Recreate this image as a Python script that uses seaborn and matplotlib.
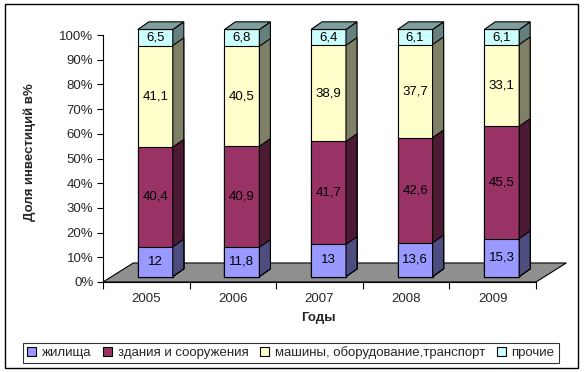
import numpy as np
import pandas as pd
import seaborn as sns
import matplotlib
matplotlib.use("Agg")
import matplotlib.pyplot as plt
from matplotlib.patches import Polygon, Patch, Rectangle
from matplotlib.transforms import offset_copy

# data (shares of investment, %)
years = ["2005", "2006", "2007", "2008", "2009"]
housing = [12, 11.8, 13, 13.6, 15.3]
buildings = [40.4, 40.9, 41.7, 42.6, 45.5]
machinery = [41.1, 40.5, 38.9, 37.7, 33.1]
other = [6.5, 6.8, 6.4, 6.1, 6.1]
series_names = ["жилища", "здания и сооружения",
                "машины, оборудование,транспорт", "прочие"]

front_colors = ["#9999FF", "#993366", "#FFFFCC", "#CCFFFF"]
side_colors = ["#4d4d80", "#4d1a33", "#808066", "#668080"]
top_color = "#7f9f9f"
floor_color = "#8f8f8f"

sns.set_style("white")
plt.rcParams["font.family"] = ["Liberation Sans", "DejaVu Sans"]

values = [housing, buildings, machinery, other]
cum = np.cumsum(values, axis=0)

fig = plt.figure(figsize=(5.85, 3.72), dpi=100)
ax = fig.add_axes([103 / 585, 90 / 372, 433 / 585, 247 / 372])

# pseudo-3D depth settings (data units)
DX, DY = 0.127, 3.1
FDX, FDY = 0.35, 7.7

floor = Polygon([(-0.5, 0), (4.5, 0), (4.5 + FDX, FDY), (-0.5 + FDX, FDY)],
                closed=True, fc=floor_color, ec="black", lw=0.8,
                clip_on=False, zorder=0.5)
ax.add_patch(floor)

shift = offset_copy(ax.transData, fig=fig, x=9, y=5.5, units="dots")

# stacked bars: draw cumulative totals from the top series down
for i in reversed(range(4)):
    df = pd.DataFrame({"year": years, "top": cum[i]})
    n_before = len(ax.patches)
    sns.barplot(data=df, x="year", y="top", color=front_colors[i],
                saturation=1, width=0.404, edgecolor="black", linewidth=0.8,
                errorbar=None, ax=ax)
    for p in ax.patches[n_before:]:
        p.set_transform(shift)
        p.set_clip_on(False)
        x0 = p.get_x()
        x1 = x0 + p.get_width()
        y0 = p.get_y()
        y1 = y0 + p.get_height()
        side = Polygon([(x1, y0), (x1 + DX, y0 + DY), (x1 + DX, y1 + DY), (x1, y1)],
                       closed=True, fc=side_colors[i], ec="black", lw=0.8,
                       transform=shift, clip_on=False)
        ax.add_patch(side)
        if i == 3:
            top = Polygon([(x0, y1), (x1, y1), (x1 + DX, y1 + DY), (x0 + DX, y1 + DY)],
                          closed=True, fc=top_color, ec="black", lw=0.8,
                          transform=shift, clip_on=False)
            ax.add_patch(top)

# value labels
for i in range(4):
    for k in range(5):
        v = values[i][k]
        ax.text(k, cum[i][k] - v / 2, f"{v:g}".replace(".", ","),
                transform=shift, ha="center", va="center", fontsize=9.5,
                color="black", clip_on=False, zorder=5)

ax.set_xlim(-0.5, 4.5)
ax.set_ylim(0, 100)

ax.set_yticks(range(0, 101, 10))
ax.set_yticklabels([f"{t}%" for t in range(0, 101, 10)])
ax.tick_params(axis="y", left=True, length=4, width=0.8, pad=3,
               labelsize=9.5, color="black")

ax.set_xticks(np.arange(-0.5, 5, 1))
ax.set_xticklabels([""] * 6)
ax.set_xticks(range(5), minor=True)
ax.set_xticklabels(years, minor=True)
ax.tick_params(axis="x", which="major", bottom=True, length=5, width=0.8,
               color="black")
ax.tick_params(axis="x", which="minor", bottom=True, length=0, pad=8,
               labelsize=9.5)

for s in ["top", "right"]:
    ax.spines[s].set_visible(False)
for s in ["left", "bottom"]:
    ax.spines[s].set_color("black")
    ax.spines[s].set_linewidth(0.8)

ax.set_xlabel("Годы", fontsize=9.5, fontweight="bold")
ax.xaxis.set_label_coords(0.497, -0.12)
ax.set_ylabel("Доля инвестиций в%", fontsize=9.5, fontweight="bold")
ax.yaxis.label.set_va("center")
ax.yaxis.set_label_coords(-0.169, 0.526)

handles = [Patch(fc=c, ec="black", lw=0.8) for c in front_colors]
leg = fig.legend(handles, series_names, loc="center",
                 bbox_to_anchor=(291 / 585, 1 - 353 / 372), ncol=4,
                 frameon=True, fancybox=False, edgecolor="black", fontsize=9.5,
                 handlelength=0.65, handleheight=0.65, handletextpad=0.45,
                 columnspacing=0.9, borderpad=0.3, borderaxespad=0)
leg.get_frame().set_linewidth(0.8)

fig.add_artist(Rectangle((5 / 585, 4 / 372), 573 / 585, 364 / 372,
                         transform=fig.transFigure, fill=False,
                         ec="black", lw=1))

fig.savefig("out.png", dpi=100)
